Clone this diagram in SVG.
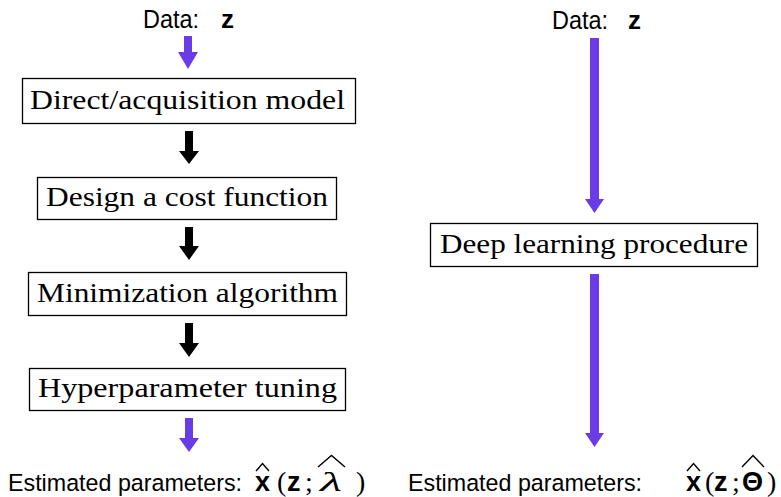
<svg xmlns="http://www.w3.org/2000/svg" width="781" height="497" viewBox="0 0 781 497">
<defs>
<style>
.sans{font-family:"Liberation Sans",Arial,sans-serif;fill:#000}
.serif{font-family:"Liberation Serif","Times New Roman",serif;font-size:28px;fill:#000}
.box{fill:#fff;stroke:#000;stroke-width:1.3}
.purple{fill:#6a3ce6}
.black{fill:#000}
.hat{fill:none;stroke:#000;stroke-width:1.4;stroke-linejoin:miter}
</style>
</defs>
<rect width="781" height="497" fill="#fff"/>

<g id="connectors">
  <path class="purple" d="M184 36 H192 V52 H198 L188 69 L178 52 H184 Z"/>
  <path class="black" d="M185 131 H193 V151 H199 L189 164 L179 151 H185 Z"/>
  <path class="black" d="M185 227 H193 V246 H199 L189 260 L179 246 H185 Z"/>
  <path class="black" d="M185 323 H193 V343 H199 L189 357 L179 343 H185 Z"/>
  <path class="purple" d="M185 418 H193 V438 H199 L189 452 L179 438 H185 Z"/>
  <path class="purple" d="M590 38 H599 V199 H604 L594.5 213 L585 199 H590 Z"/>
  <path class="purple" d="M590 274 H599 V433 H604 L594.5 447 L585 433 H590 Z"/>
</g>

<g id="data-left">
  <text class="sans" x="143" y="28" font-size="26" textLength="56" lengthAdjust="spacingAndGlyphs">Data:</text>
  <text class="sans" x="221" y="28" font-size="26" font-weight="bold">z</text>
</g>
<g id="data-right">
  <text class="sans" x="552" y="29" font-size="26" textLength="56" lengthAdjust="spacingAndGlyphs">Data:</text>
  <text class="sans" x="628" y="29" font-size="26" font-weight="bold">z</text>
</g>

<g id="node-direct">
  <rect class="box" x="22.5" y="78.5" width="333" height="45"/>
  <text class="serif" x="30" y="109" textLength="315" lengthAdjust="spacingAndGlyphs">Direct/acquisition model</text>
</g>
<g id="node-cost">
  <rect class="box" x="37.5" y="177.5" width="299" height="42"/>
  <text class="serif" x="46" y="206" textLength="282" lengthAdjust="spacingAndGlyphs">Design a cost function</text>
</g>
<g id="node-minimization">
  <rect class="box" x="28.5" y="272.5" width="318" height="43"/>
  <text class="serif" x="37" y="302" textLength="301" lengthAdjust="spacingAndGlyphs">Minimization algorithm</text>
</g>
<g id="node-hyper">
  <rect class="box" x="29.5" y="368.5" width="316" height="42"/>
  <text class="serif" x="38" y="397" textLength="299" lengthAdjust="spacingAndGlyphs">Hyperparameter tuning</text>
</g>
<g id="node-deep">
  <rect class="box" x="430.5" y="223.5" width="327" height="43"/>
  <text class="serif" x="440" y="253" textLength="308" lengthAdjust="spacingAndGlyphs">Deep learning procedure</text>
</g>

<g id="output-left">
  <text class="sans" x="8" y="491" font-size="24.5" textLength="234" lengthAdjust="spacingAndGlyphs">Estimated parameters:</text>
  <text class="sans" x="255" y="491" font-size="27" font-weight="bold">x</text>
  <polyline class="hat" points="256,471 262.5,463.5 269,471"/>
  <text class="serif" x="277" y="491" font-size="28">(</text>
  <text class="sans" x="287" y="491" font-size="27" font-weight="bold">z</text>
  <text class="serif" x="305" y="491" font-size="28">;</text>
  <text class="serif" x="320" y="491" font-size="31" font-style="italic" textLength="22" lengthAdjust="spacingAndGlyphs">λ</text>
  <polyline class="hat" points="318,467 331.5,455.5 345,467"/>
  <text class="serif" x="356" y="491" font-size="28">)</text>
</g>
<g id="output-right">
  <text class="sans" x="408" y="491" font-size="24.5" textLength="234" lengthAdjust="spacingAndGlyphs">Estimated parameters:</text>
  <text class="sans" x="686" y="491" font-size="27" font-weight="bold">x</text>
  <polyline class="hat" points="687,471 693.5,463.5 700,471"/>
  <text class="serif" x="705" y="491" font-size="28">(</text>
  <text class="sans" x="714" y="491" font-size="27" font-weight="bold">z</text>
  <text class="serif" x="732" y="491" font-size="28">;</text>
  <text class="sans" x="742" y="491" font-size="27" font-weight="bold">Θ</text>
  <polyline class="hat" points="742,467 753,455.5 764,467"/>
  <text class="serif" x="767" y="491" font-size="28">)</text>
</g>
</svg>
